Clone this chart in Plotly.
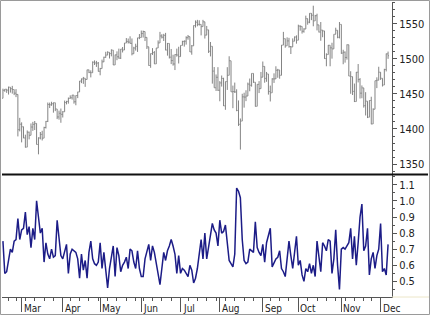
import pandas as pd
import plotly.graph_objects as go

# ---------------- data ----------------
holidays = ["2007-02-19", "2007-04-06", "2007-05-28", "2007-07-04", "2007-09-03", "2007-11-22"]
dates = [d for d in pd.bdate_range("2007-02-14", "2007-12-07").strftime("%Y-%m-%d") if d not in holidays]

opens = [1443.9,1455.3,1456.8,1455.5,1459.7,1457.6,1456.4,1451.2,1449.4,1399.0,
         1406.8,1403.2,1387.2,1374.1,1395.4,1391.0,1402.8,1406.6,1408.0,1377.9,
         1387.2,1392.3,1386.9,1402.1,1410.9,1435.0,1434.5,1436.1,1437.5,1428.6,
         1417.2,1422.5,1420.9,1424.6,1437.8,1439.4,1443.8,1444.6,1448.4,1438.9,
         1447.8,1452.9,1468.5,1471.5,1472.5,1470.7,1484.4,1480.9,1480.4,1495.4,
         1494.3,1494.1,1482.4,1486.3,1495.9,1502.4,1505.6,1509.5,1507.7,1512.6,
         1491.5,1505.9,1503.2,1501.2,1514.1,1512.8,1522.8,1525.1,1524.1,1522.3,
         1507.5,1515.7,1518.1,1530.2,1530.6,1536.3,1539.2,1530.9,1517.4,1490.7,
         1507.7,1509.1,1493.0,1515.7,1522.9,1532.9,1531.1,1533.7,1512.8,1522.2,
         1502.6,1497.7,1492.9,1506.3,1505.7,1503.4,1519.4,1524.9,1525.4,1530.4,
         1531.9,1510.1,1518.8,1547.7,1552.5,1549.5,1549.4,1546.2,1553.1,1534.1,
         1541.6,1511.0,1518.1,1482.7,1458.9,1473.9,1455.3,1465.8,1472.2,1433.1,
         1467.7,1476.7,1497.5,1453.1,1453.6,1452.9,1426.5,1406.7,1411.3,1445.9,
         1445.6,1447.1,1464.1,1462.5,1479.4,1466.8,1432.4,1463.8,1457.6,1474.0,
         1489.4,1472.3,1478.6,1453.6,1451.7,1471.5,1471.6,1483.9,1484.3,1476.7,
         1519.8,1529.0,1518.8,1525.8,1517.7,1517.2,1525.4,1531.4,1526.8,1547.0,
         1546.6,1539.6,1542.8,1557.6,1552.6,1565.2,1562.5,1554.4,1561.8,1548.7,
         1538.5,1541.2,1540.1,1500.6,1506.3,1519.6,1515.9,1514.4,1535.3,1541.0,
         1531.0,1549.4,1508.4,1509.7,1502.2,1520.3,1475.6,1474.8,1453.7,1439.2,
         1481.1,1470.6,1451.2,1458.7,1433.3,1439.7,1416.8,1440.7,1407.2,1428.2,
         1469.0,1469.7,1481.1,1472.4,1462.8,1485.0,1507.3]

highs = [1457.6,1457.0,1456.8,1460.5,1459.7,1461.6,1456.4,1456.9,1449.4,1415.9,
         1409.5,1403.4,1391.9,1397.9,1396.3,1407.9,1410.2,1411.4,1408.0,1388.1,
         1395.7,1397.5,1403.2,1411.5,1437.8,1437.7,1438.9,1437.7,1437.5,1428.6,
         1426.2,1429.2,1425.5,1440.6,1440.2,1444.9,1448.1,1448.7,1448.4,1448.0,
         1453.1,1468.6,1472.1,1474.4,1472.5,1484.7,1484.7,1483.8,1496.6,1498.0,
         1497.3,1495.7,1487.3,1499.1,1503.3,1510.3,1511.0,1509.5,1513.8,1512.6,
         1506.2,1510.9,1514.8,1514.2,1517.1,1522.8,1529.9,1529.2,1532.4,1529.3,
         1517.4,1521.8,1530.2,1535.6,1540.6,1540.5,1539.2,1530.9,1517.4,1507.8,
         1515.5,1511.3,1515.7,1526.5,1538.7,1535.4,1535.9,1537.3,1522.9,1522.2,
         1514.3,1506.1,1506.8,1514.8,1517.5,1519.4,1526.0,1526.6,1532.4,1534.3,
         1531.9,1519.9,1547.9,1555.1,1555.9,1555.3,1549.4,1555.9,1553.1,1547.2,
         1541.6,1524.3,1518.1,1488.5,1477.9,1488.3,1468.4,1476.4,1473.2,1467.7,
         1488.3,1503.9,1497.5,1462.0,1466.3,1456.7,1440.8,1415.0,1450.3,1451.8,
         1455.3,1466.3,1472.1,1479.4,1479.4,1466.8,1463.8,1468.4,1481.5,1496.4,
         1489.4,1481.5,1478.6,1462.0,1472.5,1479.5,1489.6,1485.9,1484.3,1519.9,
         1538.7,1529.1,1530.9,1530.2,1518.4,1529.4,1532.2,1533.7,1549.0,1548.0,
         1546.6,1544.0,1561.9,1557.6,1565.4,1565.4,1576.1,1563.0,1564.7,1548.7,
         1552.8,1541.2,1540.1,1508.1,1520.0,1519.6,1523.2,1535.3,1544.7,1541.0,
         1552.8,1549.4,1513.2,1510.8,1520.8,1520.3,1482.5,1474.8,1464.9,1481.4,
         1492.8,1472.7,1462.2,1458.7,1452.6,1439.7,1440.9,1446.1,1429.5,1469.0,
         1473.8,1488.9,1481.2,1472.4,1486.0,1507.8,1510.6]

lows = [1443.9,1453.2,1451.6,1449.2,1452.0,1450.5,1448.4,1445.5,1389.4,1396.6,
        1380.9,1386.9,1373.4,1374.1,1385.2,1391.0,1397.3,1398.5,1377.9,1363.8,
        1385.2,1383.6,1386.9,1400.7,1409.9,1429.9,1433.2,1423.3,1425.5,1414.1,
        1413.3,1408.9,1416.4,1424.6,1435.1,1436.2,1443.3,1442.0,1436.2,1433.9,
        1444.1,1452.9,1465.5,1464.5,1460.2,1470.7,1479.8,1473.7,1480.4,1491.4,
        1488.7,1482.0,1476.7,1486.3,1495.6,1501.8,1505.5,1500.7,1503.8,1491.4,
        1491.5,1498.3,1500.4,1500.0,1509.3,1512.8,1522.7,1522.1,1521.9,1505.2,
        1507.5,1512.0,1510.1,1528.3,1530.6,1530.6,1525.6,1514.3,1490.4,1487.4,
        1505.8,1492.9,1492.9,1515.6,1522.9,1529.3,1525.7,1512.4,1504.8,1500.7,
        1492.7,1490.5,1484.2,1503.4,1493.6,1503.4,1519.4,1517.7,1520.5,1527.5,
        1510.0,1506.1,1518.8,1544.9,1546.7,1547.7,1533.7,1546.2,1529.2,1534.1,
        1508.6,1503.7,1464.8,1458.9,1454.3,1454.3,1439.6,1460.6,1432.8,1427.4,
        1455.8,1476.7,1453.1,1429.7,1451.5,1425.4,1404.4,1370.6,1411.3,1430.5,
        1439.8,1447.1,1453.9,1460.5,1465.9,1432.0,1432.4,1451.3,1457.6,1474.0,
        1466.1,1467.4,1449.1,1439.3,1451.7,1465.8,1471.4,1473.2,1471.8,1476.7,
        1519.8,1516.1,1518.8,1516.2,1507.1,1517.2,1525.4,1521.9,1526.8,1540.4,
        1536.3,1537.6,1542.8,1549.0,1551.1,1555.5,1546.7,1554.4,1540.8,1537.9,
        1526.0,1531.1,1500.3,1489.6,1506.3,1489.6,1500.5,1514.4,1535.3,1529.6,
        1529.4,1507.3,1492.5,1494.8,1499.1,1475.6,1450.3,1448.5,1438.5,1439.2,
        1466.5,1443.5,1443.9,1430.5,1419.3,1415.6,1416.8,1406.8,1407.2,1428.2,
        1458.4,1469.7,1470.1,1460.7,1462.8,1482.2,1500.2]

closes = [1455.3,1456.8,1455.5,1459.7,1457.6,1456.4,1451.2,1449.4,1399.0,1406.8,
          1403.2,1387.2,1374.1,1395.4,1391.0,1402.8,1406.6,1408.0,1377.9,1387.2,
          1392.3,1386.9,1402.1,1410.9,1435.0,1434.5,1436.1,1437.5,1428.6,1417.2,
          1422.5,1420.9,1424.6,1437.8,1439.4,1443.8,1444.6,1448.4,1438.9,1447.8,
          1452.9,1468.5,1471.5,1472.5,1470.7,1484.4,1480.9,1480.4,1495.4,1494.3,
          1494.1,1482.4,1486.3,1495.9,1502.4,1505.6,1509.5,1507.7,1512.6,1491.5,
          1505.9,1503.2,1501.2,1514.1,1512.8,1522.8,1525.1,1524.1,1522.3,1507.5,
          1515.7,1518.1,1530.2,1530.6,1536.3,1539.2,1530.9,1517.4,1490.7,1507.7,
          1509.1,1493.0,1515.7,1522.9,1532.9,1531.1,1533.7,1512.8,1522.2,1502.6,
          1497.7,1492.9,1506.3,1505.7,1503.4,1519.4,1524.9,1525.4,1530.4,1531.9,
          1510.1,1518.8,1547.7,1552.5,1549.5,1549.4,1546.2,1553.1,1534.1,1541.6,
          1511.0,1518.1,1482.7,1458.9,1473.9,1455.3,1465.8,1472.2,1433.1,1467.7,
          1476.7,1497.5,1453.1,1453.6,1452.9,1426.5,1406.7,1411.3,1445.9,1445.6,
          1447.1,1464.1,1462.5,1479.4,1466.8,1432.4,1463.8,1457.6,1474.0,1489.4,
          1472.3,1478.6,1453.6,1451.7,1471.5,1471.6,1483.9,1484.3,1476.7,1519.8,
          1529.0,1518.8,1525.8,1517.7,1517.2,1525.4,1531.4,1526.8,1547.0,1546.6,
          1539.6,1542.8,1557.6,1552.6,1565.2,1562.5,1554.4,1561.8,1548.7,1538.5,
          1541.2,1540.1,1500.6,1506.3,1519.6,1515.9,1514.4,1535.3,1541.0,1531.0,
          1549.4,1508.4,1509.7,1502.2,1520.3,1475.6,1474.8,1453.7,1439.2,1481.1,
          1470.6,1451.2,1458.7,1433.3,1439.7,1416.8,1440.7,1407.2,1428.2,1469.0,
          1469.7,1481.1,1472.4,1462.8,1485.0,1507.3,1504.7]

ratio = [0.75,0.55,0.56,0.62,0.70,0.68,0.75,0.76,0.89,0.76,
         0.82,0.83,0.93,0.79,0.84,0.71,0.83,0.76,1.00,0.90,
         0.80,0.83,0.62,0.74,0.67,0.64,0.70,0.65,0.66,0.88,
         0.77,0.66,0.64,0.69,0.73,0.55,0.67,0.70,0.69,0.68,
         0.64,0.52,0.67,0.57,0.63,0.52,0.68,0.75,0.64,0.61,
         0.60,0.62,0.74,0.58,0.68,0.55,0.46,0.58,0.65,0.72,
         0.53,0.71,0.66,0.56,0.60,0.62,0.65,0.58,0.70,0.69,
         0.62,0.58,0.69,0.58,0.53,0.53,0.64,0.68,0.73,0.63,
         0.72,0.68,0.61,0.55,0.48,0.58,0.68,0.63,0.69,0.72,
         0.76,0.72,0.67,0.55,0.66,0.55,0.58,0.57,0.55,0.53,
         0.60,0.57,0.49,0.52,0.58,0.68,0.76,0.64,0.80,0.64,
         0.72,0.80,0.86,0.82,0.80,0.72,0.88,0.80,0.81,0.85,
         0.72,0.63,0.61,0.59,0.67,1.08,1.06,1.02,0.76,0.63,
         0.61,0.62,0.70,0.69,0.68,0.87,0.71,0.68,0.66,0.73,
         0.62,0.74,0.78,0.83,0.59,0.62,0.64,0.65,0.69,0.58,
         0.56,0.53,0.66,0.75,0.66,0.58,0.68,0.78,0.60,0.63,
         0.54,0.50,0.58,0.56,0.61,0.55,0.60,0.53,0.75,0.66,
         0.56,0.74,0.72,0.69,0.76,0.75,0.55,0.64,0.82,0.60,
         0.45,0.70,0.71,0.70,0.72,0.74,0.83,0.64,0.78,0.60,
         0.74,0.90,0.98,0.69,0.72,0.83,0.54,0.64,0.68,0.58,
         0.66,0.70,0.86,0.56,0.58,0.54,0.73]

month_ticks = ["2007-03-01", "2007-04-02", "2007-05-01", "2007-06-01", "2007-07-02",
               "2007-08-01", "2007-09-04", "2007-10-01", "2007-11-01", "2007-12-03"]
month_labels = ["Mar", "Apr", "May", "Jun", "Jul", "Aug", "Sep", "Oct", "Nov", "Dec"]

# first trading day of each week -> minor ticks
_d = pd.to_datetime(pd.Series(dates))
week_first = _d.groupby(_d.dt.isocalendar().week).min().dt.strftime("%Y-%m-%d").tolist()
week_ticks = [w for w in week_first if w not in month_ticks and w != dates[0]]

# ---------------- figure ----------------
W, H = 432, 316
ml, mr, mt, mb = 2, 40, 2, 19
pw, ph = W - ml - mr, H - mt - mb
split = (H - mb - 174.5) / ph

fig = go.Figure()
fig.add_trace(go.Ohlc(
    x=dates, open=opens, high=highs, low=lows, close=closes,
    xaxis="x", yaxis="y",
    increasing=dict(line=dict(color="#848484", width=1)),
    decreasing=dict(line=dict(color="#848484", width=1)),
    tickwidth=0.45, hoverinfo="skip", showlegend=False,
))
fig.add_trace(go.Scatter(
    x=dates, y=ratio, mode="lines", xaxis="x", yaxis="y2",
    line=dict(color="#1c1c87", width=1.5), showlegend=False, hoverinfo="skip",
))

font_main = "Liberation Sans Narrow, Arial Narrow, DejaVu Sans Condensed, Arial, sans-serif"
axis_col = "#555555"

annotations = [
    dict(x=d, y=0, xref="x", yref="paper", text=t, showarrow=False,
         xanchor="left", yanchor="top", xshift=0, yshift=-4,
         font=dict(family=font_main, size=10, color="#222222"))
    for d, t in zip(month_ticks, month_labels)
]

px2x = lambda p: (p - ml) / pw
px2y = lambda p: (H - mb - p) / ph

shapes = [
    dict(type="rect", xref="paper", yref="paper", x0=px2x(0.5), x1=px2x(429.5),
         y0=px2y(314.5), y1=px2y(0.5), line=dict(color="#9a9a9a", width=1)),
    dict(type="line", xref="paper", yref="paper", x0=px2x(392), x1=px2x(429),
         y0=0, y1=0, line=dict(color="#ece6c8", width=1)),
    dict(type="line", xref="paper", yref="paper", x0=0, x1=px2x(428),
         y0=split, y1=split, line=dict(color="#111111", width=2)),
]

fig.update_layout(
    width=W, height=H, margin=dict(l=ml, r=mr, t=mt, b=mb),
    paper_bgcolor="white", plot_bgcolor="white",
    font=dict(family=font_main, size=11, color="#222222"),
    showlegend=False,
    xaxis=dict(
        type="date", anchor="y2", domain=[0, 1],
        range=["2007-02-13 12:00", "2007-12-11 02:24"],
        rangebreaks=[dict(bounds=["sat", "mon"]), dict(values=holidays)],
        rangeslider=dict(visible=False),
        tickmode="array", tickvals=month_ticks, ticktext=[""] * len(month_ticks),
        ticks="outside", ticklen=14, tickcolor=axis_col, tickwidth=1,
        minor=dict(tickmode="array", tickvals=week_ticks, ticks="outside",
                   ticklen=3, tickcolor=axis_col, tickwidth=1, showgrid=False),
        showline=True, linecolor=axis_col, linewidth=1,
        showgrid=False, zeroline=False, fixedrange=True,
    ),
    yaxis=dict(
        domain=[split, 1], side="right", anchor="x",
        range=[1335, 1581.4], tick0=0, dtick=50,
        ticks="outside", ticklen=4, tickcolor=axis_col,
        minor=dict(dtick=10, tick0=0, ticks="outside", ticklen=2, tickcolor=axis_col, showgrid=False),
        showline=True, linecolor=axis_col, linewidth=1,
        showgrid=False, zeroline=False,
        tickfont=dict(family=font_main, size=11, color="#222222"),
    ),
    yaxis2=dict(
        domain=[0, split], side="right", anchor="x",
        range=[0.403, 1.164], tick0=0, dtick=0.1, tickformat=".1f",
        ticks="outside", ticklen=4, tickcolor=axis_col,
        minor=dict(dtick=0.05, tick0=0, ticks="outside", ticklen=2, tickcolor=axis_col, showgrid=False),
        showline=True, linecolor=axis_col, linewidth=1,
        showgrid=False, zeroline=False,
        tickfont=dict(family=font_main, size=11, color="#222222"),
    ),
    annotations=annotations,
    shapes=shapes,
)

fig.write_html("out.html")
